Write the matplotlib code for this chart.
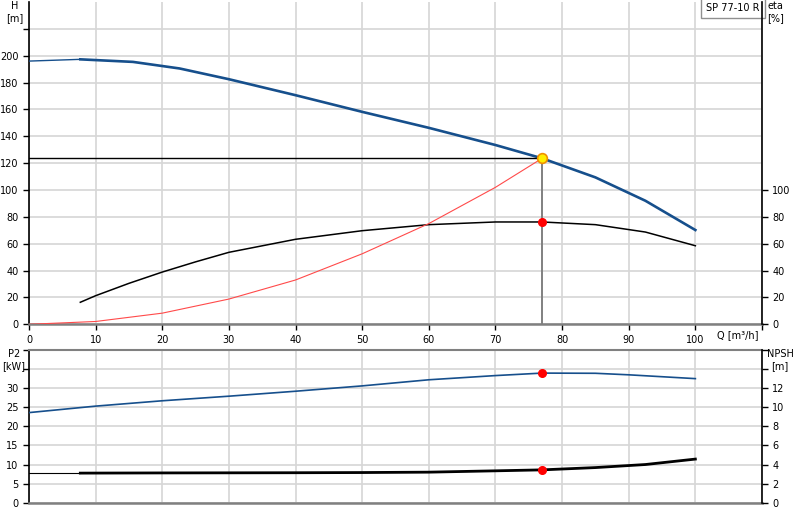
import matplotlib
matplotlib.use('Agg')
import matplotlib.pyplot as plt

# pump curve SP 77-10 R
q_h = [0, 7.7, 15.6, 22.6, 30, 40, 50, 60, 70, 77, 85, 92.5, 100]
h_m = [196, 197.3, 195.4, 190.5, 182.5, 170.6, 158.2, 146.3, 133.5, 123.6, 109.4, 92, 70.2]

q_eta = [7.7, 10, 15, 20, 25, 30, 40, 50, 60, 70, 77, 85, 92.5, 100]
eta = [16.4, 21.3, 30.5, 38.9, 46.5, 53.6, 63.3, 69.7, 74.2, 76.2, 76.2, 74.2, 68.7, 58.5]

q_sys = [0, 10, 20, 30, 40, 50, 60, 70, 77]
h_sys = [0, 2.1, 8.3, 18.8, 33, 52.5, 75, 102, 123.6]

q_p2 = [0, 10, 20, 30, 40, 50, 60, 70, 77, 85, 90, 100]
p2 = [23.6, 25.3, 26.7, 27.9, 29.2, 30.6, 32.2, 33.3, 33.95, 33.9, 33.5, 32.5]

q_npsh = [7.7, 20, 30, 40, 50, 60, 70, 77, 85, 92.5, 100]
npsh = [3.1, 3.12, 3.13, 3.14, 3.16, 3.2, 3.34, 3.44, 3.68, 4.0, 4.57]

duty_q = 77
duty_h = 123.6
duty_eta = 76.2
duty_p2 = 33.95
duty_npsh = 3.44

blue = '#164f8c'
grid_c = '#d6d6d6'
plt.rcParams['font.family'] = ['DejaVu Sans']
fs = 7

fig = plt.figure(figsize=(8, 5.2), dpi=100)
W, H = 800, 520


def box(l, t, r, b):
    return [l / W, 1 - b / H, (r - l) / W, (b - t) / H]


ax = fig.add_axes(box(29, 2, 762, 324.3))
ax2 = ax.twinx()
bx = fig.add_axes(box(29, 350, 762, 502.7))
bx2 = bx.twinx()

for a in (ax, bx):
    a.set_xlim(0, 110)
    a.set_xticks(range(0, 111, 10))
    a.grid(True, color=grid_c, lw=1.2)
    a.set_axisbelow(True)
    a.spines['left'].set_color('black')
    a.spines['bottom'].set_color('#808080')
    a.spines['bottom'].set_linewidth(1.8)
    a.tick_params(labelsize=fs, length=4, width=1)
for a in (ax2, bx2):
    a.spines['right'].set_color('black')
    a.spines['right'].set_linewidth(1.2)
    a.spines['left'].set_visible(False)
    a.spines['bottom'].set_visible(False)
    a.spines['top'].set_visible(False)
    a.tick_params(labelsize=fs, length=4, width=1)

ax.spines['top'].set_visible(False)
ax.spines['right'].set_visible(False)
ax.spines['left'].set_linewidth(1.2)
bx.spines['top'].set_color('#808080')
bx.spines['top'].set_linewidth(1.5)
bx.spines['right'].set_visible(False)
bx.spines['left'].set_linewidth(1.2)

# top panel: head, efficiency, system curve
ax.set_ylim(0, 240)
ax.set_yticks(range(0, 221, 20))
ax.set_yticklabels([str(v) if v <= 200 else '' for v in range(0, 221, 20)])
ax.set_xticklabels([str(v) if v <= 100 else '' for v in range(0, 111, 10)])
ax2.set_ylim(0, 240)
ax2.set_yticks(range(0, 101, 20))

ax.plot(q_h[:2], h_m[:2], color=blue, lw=1.0, zorder=3)
ax.plot(q_h[1:], h_m[1:], color=blue, lw=1.9, zorder=3)
ax.plot(q_eta, eta, color='black', lw=1.1, zorder=3)
ax.plot(q_sys, h_sys, color='#ff4a4a', lw=0.8, zorder=3)
ax.plot([0, duty_q], [duty_h, duty_h], color='black', lw=1.0, zorder=3)
ax.plot([duty_q, duty_q], [0, duty_h], color='#808080', lw=1.4, zorder=3)
ax.plot(duty_q, duty_eta, 'o', color='red', ms=5.5, zorder=5)
ax.plot(duty_q, duty_h, 'o', mfc='#ffee00', mec='#f09000', mew=1.2, ms=7, zorder=5)

ax.text(109.5, -4, 'Q [m³/h]', ha='right', va='top', fontsize=fs)
fig.text(15 / W, 1 - 1 / H, 'H\n[m]', ha='center', va='top', fontsize=fs, linespacing=1.3)
fig.text(767 / W, 1 - 1 / H, 'eta\n[%]', ha='left', va='top', fontsize=fs, linespacing=1.3)
ax.text(0.997, 0.997, 'SP 77-10 R', transform=ax.transAxes, ha='right', va='top',
        fontsize=fs, zorder=6,
        bbox=dict(boxstyle='square,pad=0.5', fc='white', ec='#909090', lw=1))

# bottom panel: power and NPSH
bx.set_ylim(0, 40)
bx.set_yticks(range(0, 41, 5))
bx.set_yticklabels([str(v) if v <= 30 else '' for v in range(0, 41, 5)])
bx.tick_params(axis='x', length=0, labelbottom=False)
bx2.set_ylim(0, 16)
bx2.set_yticks(range(0, 17, 2))
bx2.set_yticklabels([str(v) if v <= 12 else '' for v in range(0, 17, 2)])

bx.plot(q_p2, p2, color=blue, lw=1.2, zorder=3)
bx.plot(duty_q, duty_p2, 'o', color='red', ms=5.5, zorder=5)
bx2.plot([0, q_npsh[0]], [npsh[0], npsh[0]], color='black', lw=0.8, zorder=3)
bx2.plot(q_npsh, npsh, color='black', lw=2.0, zorder=3)
bx2.plot(duty_q, duty_npsh, 'o', color='red', ms=5.5, zorder=5)

fig.text(14 / W, 1 - 349 / H, 'P2\n[kW]', ha='center', va='top', fontsize=fs, linespacing=1.3)
fig.text(780 / W, 1 - 349 / H, 'NPSH\n[m]', ha='center', va='top', fontsize=fs, linespacing=1.3)

fig.savefig('out.png', dpi=100)
